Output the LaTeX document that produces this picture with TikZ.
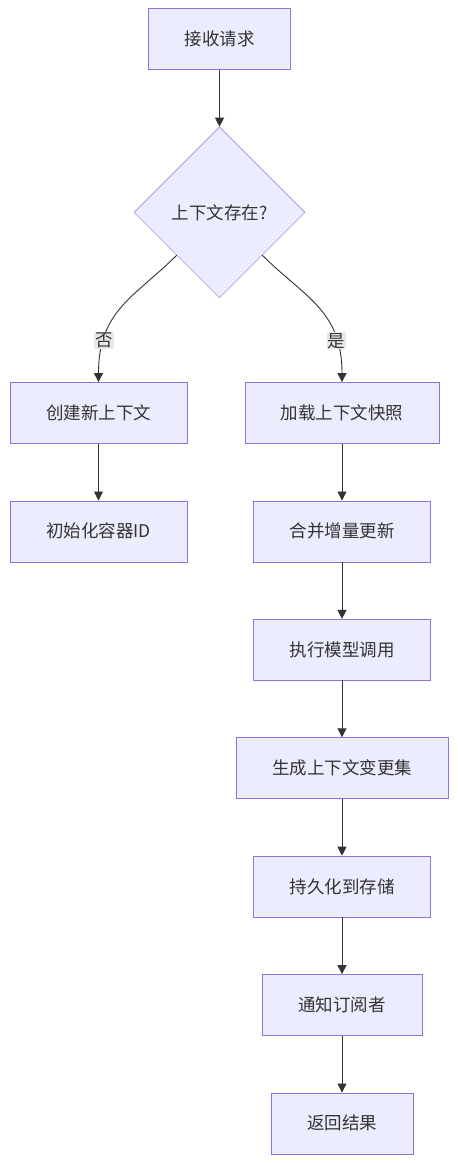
\documentclass[tikz,border=0pt]{standalone}
\usepackage{fontspec}
\setmainfont{Noto Sans CJK SC}
\usetikzlibrary{shapes.geometric,arrows.meta,positioning}

\definecolor{boxfill}{HTML}{ECECFF}
\definecolor{boxline}{HTML}{9370DB}
\definecolor{textdark}{HTML}{333333}
\definecolor{lblfill}{HTML}{E8E8E8}

\begin{document}
\begin{tikzpicture}[
    x=1pt, y=-1pt,
    node distance=57pt,
    font=\fontsize{17.5pt}{20pt}\selectfont,
    box/.style={rectangle, draw=boxline, fill=boxfill, text=textdark, inner xsep=36pt, minimum height=61pt},
    decision/.style={diamond, draw=boxline, fill=boxfill, text=textdark, aspect=1, inner sep=0pt, minimum size=171pt},
    lbl/.style={fill=lblfill, text=textdark, inner sep=1pt},
    arrow/.style={-{Triangle[length=9pt,width=9pt]}, draw=textdark, line width=0.9pt}
]
\useasboundingbox (0,0) rectangle (458,1163);

% Start and decision
\node[box] (receive) at (219.5,39) {接收请求};
\node[decision, below=57pt of receive] (exists) {上下文存在?};

% Left branch
\node[box, below=84pt of exists, xshift=-121pt] (create) {创建新上下文};
\node[box, below=of create] (initid) {初始化容器ID};

% Right branch
\node[box, below=84pt of exists, xshift=122.5pt] (load) {加载上下文快照};
\node[box, below=of load] (merge) {合并增量更新};
\node[box, below=of merge] (invoke) {执行模型调用};
\node[box, below=of invoke] (changeset) {生成上下文变更集};
\node[box, below=of changeset] (persist) {持久化到存储};
\node[box, below=of persist] (notify) {通知订阅者};
\node[box, below=of notify] (result) {返回结果};

% Arrows
\draw[arrow] (receive) -- (exists);
\draw[arrow] (exists.south west) .. controls +(-42,42) and +(0,-72) .. node[lbl, pos=0.77] {否} (create.north);
\draw[arrow] (exists.south east) .. controls +(42,42) and +(0,-72) .. node[lbl, pos=0.77] {是} (load.north);
\draw[arrow] (create) -- (initid);
\draw[arrow] (load) -- (merge);
\draw[arrow] (merge) -- (invoke);
\draw[arrow] (invoke) -- (changeset);
\draw[arrow] (changeset) -- (persist);
\draw[arrow] (persist) -- (notify);
\draw[arrow] (notify) -- (result);

\end{tikzpicture}
\end{document}
